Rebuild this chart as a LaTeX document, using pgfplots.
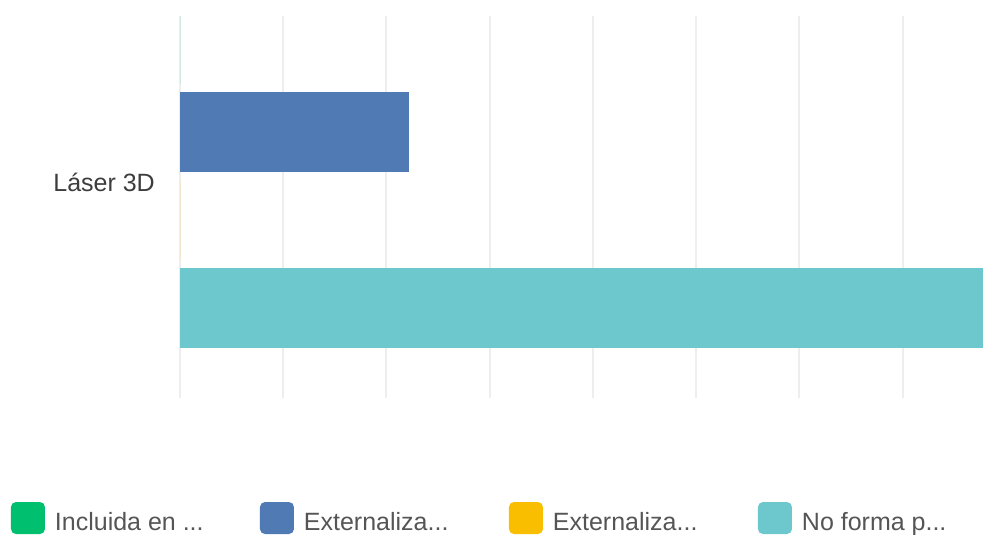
\documentclass[border=0pt]{standalone}
\usepackage{fontspec}
\setmainfont{Liberation Sans}
\usepackage{pgfplots}
\pgfplotsset{compat=1.18}

\definecolor{smgreen}{HTML}{00BF6F}
\definecolor{smblue}{HTML}{4F7AB4}
\definecolor{smyellow}{HTML}{F9BE00}
\definecolor{smteal}{HTML}{6CC8CD}
\definecolor{gridgray}{HTML}{EEEEEE}
\definecolor{axisgray}{HTML}{D6D6D6}
\definecolor{labelgray}{HTML}{3D3D3D}
\definecolor{legendgray}{HTML}{555555}

\begin{document}
\begin{tikzpicture}
  % page = 994 x 535 px, 1px = 1bp; axis top-left at px (180,16)
  \path[use as bounding box] (-180bp,16bp) rectangle (814bp,-519bp);
  \begin{axis}[
      at={(0,0)}, anchor=north west,
      scale only axis,
      width=803bp, height=382bp,
      xmin=0, xmax=77.78,
      ymin=16, ymax=398, y dir=reverse,
      xbar, bar width=80,
      axis line style={draw=none},
      xtick={10,20,...,70}, xticklabels={},
      extra x ticks={0}, extra x tick labels={},
      extra x tick style={grid style={color=axisgray, line width=3bp}},
      xmajorgrids,
      major grid style={color=gridgray, line width=2bp},
      ytick={182}, yticklabels={Láser 3D},
      major tick length=0pt,
      tick label style={font=\fontsize{25bp}{30bp}\selectfont, color=labelgray},
      yticklabel style={inner sep=0pt, xshift=-25bp},
      legend columns=4,
      legend style={
        at={(axis description cs:-0.2105,-0.2723)}, anchor=north west,
        draw=none, fill=none, inner sep=0pt, outer sep=0pt,
        font=\fontsize{25bp}{30bp}\selectfont, text=legendgray,
        nodes={inner sep=0pt},
        /tikz/every odd column/.style={column sep=0pt},
        /tikz/every even column/.style={column sep=0pt},
      },
      legend image code/.code={
        \fill[#1, rounded corners=5bp] (0bp,-12bp) rectangle (34bp,20bp);
      },
    ]
    \addplot[fill=smgreen, draw=none, bar shift=-132] coordinates {(0,176)};
    \addplot[fill=smblue, draw=none, bar shift=-44] coordinates {(22.22,176)};
    \addplot[fill=smyellow, draw=none, bar shift=44] coordinates {(0,176)};
    \addplot[fill=smteal, draw=none, bar shift=132] coordinates {(77.78,176)};
    \legend{
      {\hspace{10bp}\makebox[205bp][l]{Incluida en ...}},
      {\hspace{10bp}\makebox[205bp][l]{Externaliza...}},
      {\hspace{10bp}\makebox[205bp][l]{Externaliza...}},
      {\hspace{10bp}\makebox[205bp][l]{No forma p...}}
    }
  \end{axis}
\end{tikzpicture}
\end{document}
